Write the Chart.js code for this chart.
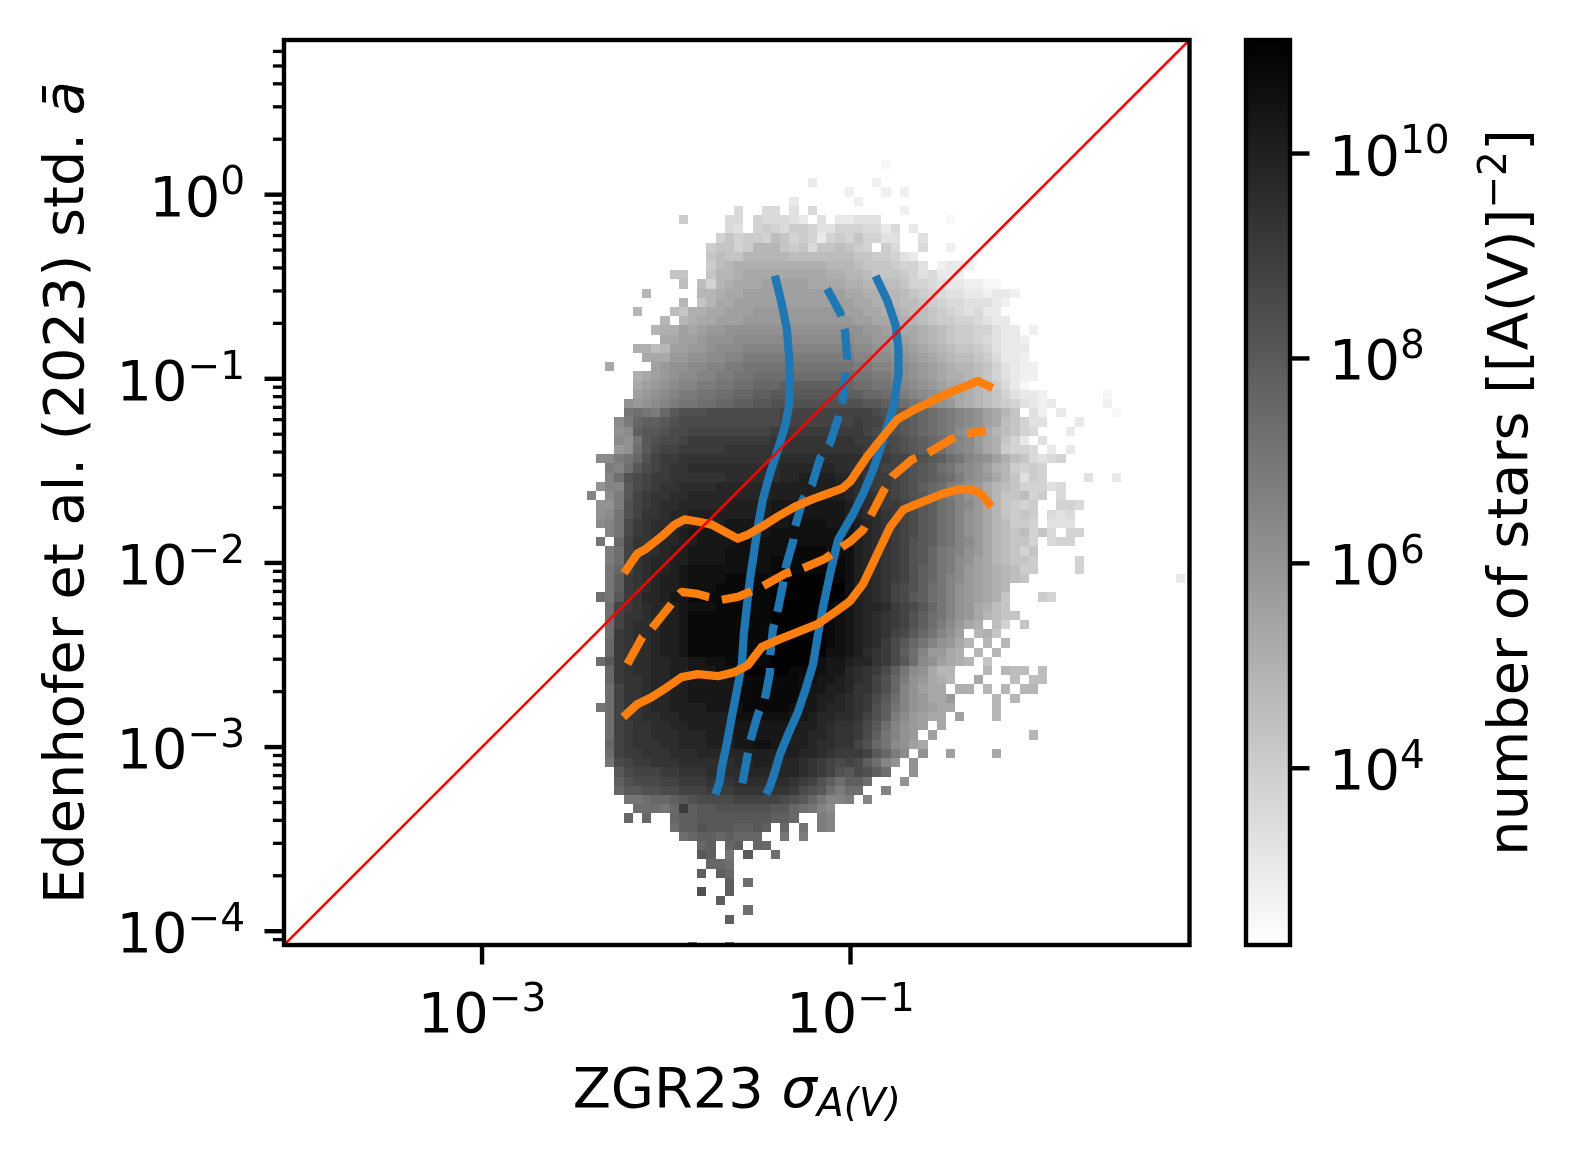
<!DOCTYPE html>
<html>
<head>
<meta charset="utf-8">
<script src="https://cdn.jsdelivr.net/npm/chart.js@4.4.0/dist/chart.umd.min.js"></script>
<style>
  body { margin: 0; background: #fff; }
  #wrap { position: relative; width: 1574px; height: 1160px; }
  #wrap canvas { position: absolute; left: 0; top: 0; }
</style>
</head>
<body>
<div id="wrap">
  <canvas id="main" width="1574" height="1160"></canvas>
  <canvas id="cbar" width="1574" height="1160"></canvas>
</div>
<script>
// axis ranges (log10), same on both axes
const axisLogMin = -4.075;
const axisLogMax = 0.84;
const xTickExps = [-3, -1];
const yTickExps = [-4, -3, -2, -1, 0];
const minorSubs = [2, 3, 4, 5, 6, 7, 8, 9];

// colour scale, log10 of number of stars
const cbarLogMin = 2.275;
const cbarLogMax = 11.108;
const cbarTickExps = [4, 6, 8, 10];

// 2d histogram: bins of 0.05 dex, first column edge / first row top edge (log10)
const binWidth = 0.05;
const xBinStart = -2.482;
const yBinTop = 0.24;
// one char per bin, log10(count) = 2.3 + 0.25 * level, '.' = empty
const levelChars = '0123456789abcdefghijklmnopqrstuvwxyz';
const densityRows = [
  [0, ''],
  [33, '1'],
  [0, ''],
  [25, '3......2'],
  [29, '2...2.2'],
  [23, '3......2'],
  [17, '5..55.4.5.........2'],
  [11, '7....55.655543.4.33444.......1'],
  [16, '54.6765776446665535.3'],
  [15, '68677698676367686644..4'],
  [14, '78867aaa8785889876.75..5..2'],
  [14, '8988aaaaa99999998877643'],
  [14, '79abbbbbbbbbbaaa98887664.2332'],
  [10, '88..8aabcccccccccbbaa98887645332'],
  [11, '9.96abcccdddddccccbbaa9986654332211'],
  [7, 'a.....aabccdddddddddddccbbaa9876544332332'],
  [11, 'a.8accdddddddddddddccbba998765544432'],
  [6, 'a...98bbccdddeeeeeeeeeeddccbba9987654533'],
  [9, 'a.abccdddeeeeeeeeeeeeddccbba9877665433'],
  [8, 'abbdcdeefffffffffffffffeeddccba987766433.2'],
  [9, 'ccddefffgggggggggggggffeeddcba9877654332'],
  [6, 'bb9addeefggghhhhhhhhhhhhggffeedcba988764333'],
  [7, 'ccceeffgghhiiiiiiiiiiiihhggffedcba99875332'],
  [3, 'c....deffgghhiijjjjjjjjjjjjiihhggfedcbaa9864322'],
  [6, 'bcdefgghhiijjkkkkkkkkkkkjjiihgfedcbba9864322'],
  [6, 'cdefghhiijjkklllmmmmmmmlkkjjihgfedccba97531'],
  [6, 'defghiijjkkllmmnnnnnnnnmmllkjihgfedcba9864332......1'],
  [5, 'fefghijjkkllmmnnoooooooooonnmlkjigfecba98764323.....2'],
  [5, 'jkjilnoooppppppppqqqqqqqqqqponnmlkjihgfdca8.42.3.....1'],
  [4, 'gilmmnopppppppppppqqqqqqqqrqqponmlkjihgfdc98644...3'],
  [4, 'fgmnnoppqqqqqqqqqrrrrrrrrrrqpponmlkjigfeca9865...3'],
  [4, 'gfjnoppqrrrrrrrrrsssssssssrrqpponmlkihgecb863.4'],
  [4, 'efknpqqrrrrrsssssssssssssssrqqponmlkihgecb7665.3.3'],
  [2, 'ggijloqrrssssssssssttttttttttssrqqponmkjhgfdb985456'],
  [3, 'ihknpqrssttttttttttuuuuuuttssrqqponmkjhgfdba7676'],
  [3, 'hkopqrrssssssttttttuuvvvvuutsrrqponmlkigfeca8476....4..3'],
  [2, 'fhhnpqrssttttuuuuuuvvvvvvvvutsrrqpomlkihfeca9866645'],
  [1, 'h.ginqrssttuuuuuuuuuvvvvvvvvuttsrqponlkihfeca88967.5'],
  [2, 'ffioqrsttuuuuuvvvvvwwwwwwwwvutsrrqonmkjhgeca8767..665'],
  [2, 'fgjoqsstuuvvvvvvvvvwwwwwwwwvuttsrqpnmkjhfeca8787.545'],
  [2, 'ghjprsttuuvvvvwwwwwwwxxxxwwwvutsrqpnmkjhfeca9776.444'],
  [3, 'hjprstuuvwwwwwwwwwxxxxxxxxwvutsrqpnmkjhfeca989685.66'],
  [2, 'j.lqsstuuvvwwwwxxxxxxxxxxxxwvutsrqonmkjhgeca9886.566'],
  [3, 'ikqsttuvvwwwwxxxxxxxyyyyxxxvutsrqonljihfeca9868'],
  [3, 'ikqstuuvvwwwwxxxxxyyyyyyyyxvutsrqonljigfdca9887....6'],
  [3, 'jlqstuuvwxxxxxxxxxyyyyyyyyxvutsrqomljigedcba977....6'],
  [3, 'jmrstuvvwxxxxyyyyyyzzzzzzyxvutsrqomljhgedcba98................3'],
  [3, 'jmrstuvvwxxxyyyyyyzzzzzzzzxvutsqpomkjhfedcba'],
  [2, 'kjnrsuuvwwyyyyyyyyyzzzzzzzzxvutsqpnmkjhfedcb8...76'],
  [3, 'kqrstuuvwxxxyyyyyyzzzzzzyxwvuutrqpnljhfecb98'],
  [3, 'kqsstuvvwyyyyyyyyyzzzzzzyxwvutsrqomkjhfeca988'],
  [3, 'kqsttuvvwyyyyyyyyyzzzzzzyxwvutsrqomkigecb.96.8'],
  [3, 'krsttuvvwyyyyyyyyyzzzzzzyxwvutsqpnljhfd.ab8'],
  [3, 'lrsttuvvwyyyyyyyyyzzzzzzyxwvutrpnljhfeca.a.a'],
  [3, 'lrsttuvvwyyyyyyyyyzzzzzzxxwvtsrpmkheecb.a.a'],
  [2, 'knrsttuuvvwwxxyyyyyzzzzyxwwvuusrpnkgfdcba.8'],
  [3, 'lrsttuuvvwwwxxyzzzzzyyxxwwutsrpmjgfcaa...a.a99.9'],
  [3, 'lrsstuuvvwwwwwyyyyyyyxxwwvutsqolifecba..c...9.99'],
  [3, 'kqsstuuvvwwwwwyyyyyyyxwwvvussqolhfdcc.bb.a.a.aa'],
  [3, 'kqsstuuvvwwwwwyyyyyyyxwvvutsrpnkhfecce....a.a'],
  [2, 'jkqsstuuvvvvwwwxyyyyyxwwvuutsromjhfedcc....a'],
  [3, 'kqssttuuvvvvvvxxxxxxwwvuuttsqomigedcc.d...a'],
  [3, 'kqrssttuuvvvvvwwwwwwwvvutssrpnkhfed.c'],
  [3, 'kqrsstttuuuvvvwwwwwwvvuutssrpmjhfe.d..........a'],
  [3, 'lqrsssttuuuvvvwwxxwwvvuttssqoljgfdc'],
  [3, 'kqrrssstttuuuuuvvvvvvuutsrrrqnlig.f..d....c'],
  [3, 'jpqrrsssttttttuuvvuuutsrqpqpmkhf.f'],
  [4, 'npqqqrrsssttttuuuuuutsrqonpomk..f'],
  [4, 'mopppqqrrrsssttttttsrqomkmmk...f'],
  [4, 'lnnooppqqqrrrssssssrponkikk..h'],
  [5, 'jjkllmnoppppqqqqqponljhhi.h'],
  [6, 'kkkjlrmnnoooooonnlkjhg'],
  [5, 'l.l..lmmnnnnnnnnmml..ih'],
  [10, 'kmmonnnmmnm.l.j.ih'],
  [11, 'klmmlmlll..j.i'],
  [13, 'lm.lm.ll'],
  [13, 'nm.j.n..k'],
  [14, 'llk'],
  [13, 'm.ml'],
  [16, 'm.k'],
  [13, 'o..m'],
  [15, 'm'],
  [18, 'k'],
  [16, 'm'],
  [0, ''],
  [0, ''],
  [12, 'k...k']
];

// quantile curves (log10 values)
const blueLoLogX = [-1.405, -1.372, -1.345, -1.334, -1.328, -1.334, -1.356, -1.394, -1.437, -1.476, -1.503, -1.525, -1.546, -1.563, -1.579, -1.590, -1.617, -1.645, -1.672, -1.699, -1.710, -1.726];
const blueLoLogY = [-0.462, -0.598, -0.734, -0.871, -1.012, -1.149, -1.258, -1.383, -1.514, -1.655, -1.803, -1.950, -2.091, -2.238, -2.386, -2.549, -2.696, -2.838, -2.985, -3.110, -3.187, -3.236];
const blueMidLogX = [-1.127, -1.056, -1.029, -1.018, -1.029, -1.045, -1.067, -1.111, -1.165, -1.209, -1.258, -1.301, -1.312, -1.356, -1.367, -1.399, -1.421, -1.437, -1.437, -1.465, -1.503, -1.546, -1.563, -1.590];
const blueMidLogY = [-0.511, -0.642, -0.745, -0.892, -0.991, -1.127, -1.214, -1.350, -1.432, -1.574, -1.655, -1.803, -1.884, -2.037, -2.119, -2.277, -2.358, -2.511, -2.593, -2.740, -2.822, -2.974, -3.067, -3.214];
const blueHiLogX = [-0.854, -0.800, -0.756, -0.740, -0.740, -0.767, -0.822, -0.876, -0.931, -0.985, -1.067, -1.111, -1.149, -1.176, -1.203, -1.247, -1.290, -1.339, -1.383, -1.410, -1.437, -1.448];
const blueHiLogY = [-0.462, -0.576, -0.707, -0.832, -0.980, -1.149, -1.328, -1.492, -1.623, -1.732, -1.873, -2.059, -2.238, -2.386, -2.549, -2.696, -2.822, -2.931, -3.040, -3.132, -3.214, -3.236];

const orangeHiLogX = [-2.217, -2.157, -2.108, -2.026, -1.955, -1.901, -1.830, -1.753, -1.683, -1.612, -1.557, -1.481, -1.394, -1.301, -1.209, -1.121, -1.045, -1.001, -0.909, -0.822, -0.745, -0.658, -0.549, -0.457, -0.386, -0.309, -0.249];
const orangeHiLogY = [-2.037, -1.950, -1.922, -1.857, -1.792, -1.764, -1.775, -1.792, -1.830, -1.868, -1.846, -1.803, -1.748, -1.694, -1.655, -1.623, -1.595, -1.557, -1.421, -1.312, -1.219, -1.170, -1.116, -1.072, -1.045, -1.012, -1.040];
const orangeMidLogX = [-2.211, -2.130, -2.080, -1.971, -1.917, -1.830, -1.775, -1.699, -1.612, -1.557, -1.481, -1.356, -1.263, -1.138, -1.045, -1.001, -0.931, -0.893, -0.822, -0.773, -0.664, -0.582, -0.446, -0.375, -0.266];
const orangeMidLogY = [-2.549, -2.402, -2.358, -2.222, -2.157, -2.168, -2.184, -2.200, -2.184, -2.162, -2.129, -2.059, -2.031, -1.977, -1.912, -1.884, -1.819, -1.748, -1.612, -1.530, -1.437, -1.405, -1.323, -1.296, -1.285];
const orangeLoLogX = [-2.217, -2.157, -2.080, -2.010, -1.917, -1.830, -1.721, -1.628, -1.557, -1.481, -1.394, -1.285, -1.176, -1.067, -1.001, -0.931, -0.854, -0.784, -0.713, -0.604, -0.495, -0.418, -0.347, -0.293, -0.249];
const orangeLoLogY = [-2.822, -2.767, -2.729, -2.685, -2.620, -2.604, -2.615, -2.593, -2.555, -2.456, -2.418, -2.375, -2.331, -2.255, -2.206, -2.113, -1.950, -1.803, -1.710, -1.666, -1.623, -1.601, -1.601, -1.623, -1.677];

// one-to-one line
const identityLogXY = [-5, 1];

const BLUE = '#1f77b4';
const ORANGE = '#ff7f0e';
const FS = 55.8;
const SUP = FS * 0.7;
const FAMILY = '"DejaVu Sans", sans-serif';
const TICK_MAJOR = 19.5;
const TICK_MINOR = 11.1;
const SPINE = 4.4;

function curve(logX, logY) {
  return logX.map((lx, i) => ({ x: 10 ** lx, y: 10 ** logY[i] }));
}

function grayFor(logN) {
  let t = (logN - cbarLogMin) / (cbarLogMax - cbarLogMin);
  t = Math.max(0, Math.min(1, t));
  const g = Math.round(255 * (1 - t));
  return `rgb(${g},${g},${g})`;
}

function powerLabel(ctx, exp, x, baseY, align) {
  const supText = exp < 0 ? '\u2212' + Math.abs(exp) : String(exp);
  ctx.font = `${FS}px ${FAMILY}`;
  const wBase = ctx.measureText('10').width;
  ctx.font = `${SUP}px ${FAMILY}`;
  const wSup = ctx.measureText(supText).width;
  const total = wBase + wSup;
  const x0 = align === 'right' ? x - total : align === 'center' ? x - total / 2 : x;
  ctx.textAlign = 'left';
  ctx.textBaseline = 'alphabetic';
  ctx.fillStyle = '#000';
  ctx.font = `${FS}px ${FAMILY}`;
  ctx.fillText('10', x0, baseY);
  ctx.font = `${SUP}px ${FAMILY}`;
  ctx.fillText(supText, x0 + wBase, baseY - 0.38 * FS);
}

function drawRuns(ctx, runs, cx, baseY) {
  let total = 0;
  const widths = runs.map(([text, font]) => {
    ctx.font = font;
    const w = ctx.measureText(text).width;
    total += w;
    return w;
  });
  let x = cx - total / 2;
  ctx.textAlign = 'left';
  ctx.textBaseline = 'alphabetic';
  ctx.fillStyle = '#000';
  runs.forEach(([text, font, dy], i) => {
    ctx.font = font;
    ctx.fillText(text, x, baseY + (dy || 0));
    x += widths[i];
  });
}

function tick(ctx, x0, y0, x1, y1, width) {
  ctx.lineWidth = width;
  ctx.beginPath();
  ctx.moveTo(x0, y0);
  ctx.lineTo(x1, y1);
  ctx.stroke();
}

const heatmapPlugin = {
  id: 'heatmap',
  beforeDatasetsDraw(chart) {
    const { ctx, chartArea: a, scales: { x, y } } = chart;
    ctx.save();
    ctx.beginPath();
    ctx.rect(a.left, a.top, a.right - a.left, a.bottom - a.top);
    ctx.clip();
    densityRows.forEach(([start, cells], r) => {
      const yTop = Math.round(y.getPixelForValue(10 ** (yBinTop - binWidth * r)));
      const yBot = Math.round(y.getPixelForValue(10 ** (yBinTop - binWidth * (r + 1))));
      for (let i = 0; i < cells.length; i++) {
        const ch = cells[i];
        if (ch === '.') continue;
        const c = start + i;
        const x0 = Math.round(x.getPixelForValue(10 ** (xBinStart + binWidth * c)));
        const x1 = Math.round(x.getPixelForValue(10 ** (xBinStart + binWidth * (c + 1))));
        ctx.fillStyle = grayFor(2.3 + 0.25 * levelChars.indexOf(ch));
        ctx.fillRect(x0, yTop, x1 - x0, yBot - yTop);
      }
    });
    ctx.restore();
  }
};

const axesPlugin = {
  id: 'axesDeco',
  afterDraw(chart) {
    const { ctx, chartArea: a, scales: { x, y } } = chart;
    ctx.save();
    ctx.strokeStyle = '#000';
    ctx.lineWidth = SPINE;
    ctx.strokeRect(a.left, a.top, a.right - a.left, a.bottom - a.top);

    // y ticks
    for (let e = -5; e <= 0; e++) {
      minorSubs.forEach(m => {
        const v = m * 10 ** e;
        if (Math.log10(v) < axisLogMin || Math.log10(v) > axisLogMax) return;
        const py = y.getPixelForValue(v);
        tick(ctx, a.left, py, a.left - TICK_MINOR, py, 3.3);
      });
    }
    yTickExps.forEach(e => {
      const py = y.getPixelForValue(10 ** e);
      tick(ctx, a.left, py, a.left - TICK_MAJOR, py, SPINE);
      powerLabel(ctx, e, a.left - 2 * TICK_MAJOR, py + 21, 'right');
    });
    // x ticks
    xTickExps.forEach(e => {
      const px = x.getPixelForValue(10 ** e);
      tick(ctx, px, a.bottom, px, a.bottom + TICK_MAJOR, SPINE);
      powerLabel(ctx, e, px, a.bottom + 87, 'center');
    });

    // axis titles
    const normal = `${FS}px ${FAMILY}`;
    const italic = `italic ${FS}px ${FAMILY}`;
    drawRuns(ctx, [['ZGR23 ', normal], ['\u03c3', italic], ['A(V)', `italic ${SUP}px ${FAMILY}`, 9]],
      (a.left + a.right) / 2, a.bottom + 162);

    ctx.save();
    ctx.translate(83, (a.top + a.bottom) / 2);
    ctx.rotate(-Math.PI / 2);
    drawRuns(ctx, [['Edenhofer et al. (2023) std. ', normal], ['\u0101', italic]], 0, 0);
    ctx.restore();
    ctx.restore();
  }
};

const colorbarPlugin = {
  id: 'colorbar',
  afterDraw(chart) {
    const { ctx, chartArea: a, scales: { y } } = chart;
    ctx.save();
    const grad = ctx.createLinearGradient(0, a.bottom, 0, a.top);
    grad.addColorStop(0, grayFor(cbarLogMin));
    grad.addColorStop(1, grayFor(cbarLogMax));
    ctx.fillStyle = grad;
    ctx.fillRect(a.left, a.top, a.right - a.left, a.bottom - a.top);
    ctx.strokeStyle = '#000';
    ctx.lineWidth = SPINE;
    ctx.strokeRect(a.left, a.top, a.right - a.left, a.bottom - a.top);

    cbarTickExps.forEach(e => {
      const py = y.getPixelForValue(10 ** e);
      tick(ctx, a.right, py, a.right + TICK_MAJOR, py, SPINE);
      powerLabel(ctx, e, a.right + 2 * TICK_MAJOR, py + 21, 'left');
    });

    const normal = `${FS}px ${FAMILY}`;
    ctx.translate(1527, (a.top + a.bottom) / 2);
    ctx.rotate(-Math.PI / 2);
    drawRuns(ctx, [['number of stars [[A(V)]', normal], ['\u22122', `${SUP}px ${FAMILY}`, -0.38 * FS], [']', normal]], 0, 0);
    ctx.restore();
  }
};

const lineBase = { showLine: true, pointRadius: 0, fill: false, tension: 0, borderJoinStyle: 'round' };
const QW = 8.3;
const DASH = [31, 13];

new Chart(document.getElementById('main'), {
  type: 'scatter',
  data: {
    datasets: [
      { ...lineBase, data: curve(identityLogXY, identityLogXY), borderColor: 'red', borderWidth: 2.6, clip: 0 },
      { ...lineBase, data: curve(orangeHiLogX, orangeHiLogY), borderColor: ORANGE, borderWidth: QW, borderCapStyle: 'square' },
      { ...lineBase, data: curve(orangeMidLogX, orangeMidLogY), borderColor: ORANGE, borderWidth: QW, borderDash: DASH },
      { ...lineBase, data: curve(orangeLoLogX, orangeLoLogY), borderColor: ORANGE, borderWidth: QW, borderCapStyle: 'square' },
      { ...lineBase, data: curve(blueLoLogX, blueLoLogY), borderColor: BLUE, borderWidth: QW, borderCapStyle: 'square' },
      { ...lineBase, data: curve(blueMidLogX, blueMidLogY), borderColor: BLUE, borderWidth: QW, borderDash: DASH },
      { ...lineBase, data: curve(blueHiLogX, blueHiLogY), borderColor: BLUE, borderWidth: QW, borderCapStyle: 'square' }
    ]
  },
  options: {
    responsive: false,
    animation: false,
    devicePixelRatio: 1,
    layout: { padding: { left: 0, top: 40, right: 384.5, bottom: 0 } },
    plugins: { legend: { display: false }, tooltip: { enabled: false } },
    scales: {
      x: {
        type: 'logarithmic', min: 10 ** axisLogMin, max: 10 ** axisLogMax,
        ticks: { display: false }, grid: { display: false }, border: { display: false },
        afterFit(s) { s.height = 215; }
      },
      y: {
        type: 'logarithmic', min: 10 ** axisLogMin, max: 10 ** axisLogMax,
        ticks: { display: false }, grid: { display: false }, border: { display: false },
        afterFit(s) { s.width = 284; }
      }
    }
  },
  plugins: [heatmapPlugin, axesPlugin]
});

new Chart(document.getElementById('cbar'), {
  type: 'scatter',
  data: { datasets: [] },
  options: {
    responsive: false,
    animation: false,
    devicePixelRatio: 1,
    layout: { padding: { left: 1246, top: 40, right: 0, bottom: 215 } },
    plugins: { legend: { display: false }, tooltip: { enabled: false } },
    scales: {
      x: { display: false },
      y: {
        type: 'logarithmic', position: 'right', min: 10 ** cbarLogMin, max: 10 ** cbarLogMax,
        ticks: { display: false }, grid: { display: false }, border: { display: false },
        afterFit(s) { s.width = 284; }
      }
    }
  },
  plugins: [colorbarPlugin]
});
</script>
</body>
</html>
